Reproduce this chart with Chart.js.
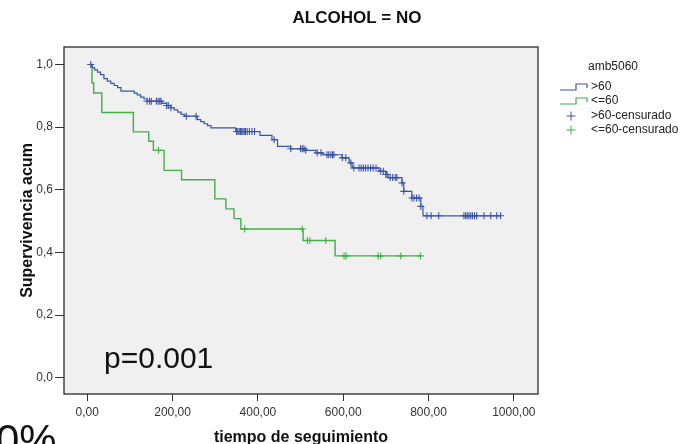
<!DOCTYPE html>
<html>
<head>
<meta charset="utf-8">
<script src="https://cdn.jsdelivr.net/npm/chart.js@4.4.1/dist/chart.umd.min.js"></script>
<style>
  html, body { margin: 0; padding: 0; background: #fff; }
  #wrap { width: 689px; height: 444px; position: relative; }
</style>
</head>
<body>
<div id="wrap"><canvas id="km"></canvas></div>
<script>
// Kaplan-Meier: tiempo de seguimiento vs supervivencia acumulada, grupo amb5060
const blueTimes = [8, 12, 17, 24, 31, 39, 47, 55, 63, 71,
  79, 110, 117, 125, 133, 140, 175, 186, 196, 204,
  212, 220, 228, 258, 266, 274, 282, 290, 348, 405,
  433, 446, 477, 512, 536, 552, 597, 614, 621, 684,
  700, 705, 738, 742, 761, 782, 787, 969];
const blueSurv = [1.0, 0.990, 0.983, 0.976, 0.968, 0.955, 0.947, 0.940, 0.933, 0.926,
  0.915, 0.909, 0.903, 0.896, 0.890, 0.883, 0.876, 0.869, 0.862, 0.855,
  0.848, 0.841, 0.835, 0.824, 0.818, 0.811, 0.805, 0.798, 0.786, 0.774,
  0.760, 0.739, 0.731, 0.726, 0.718, 0.712, 0.702, 0.686, 0.670, 0.659,
  0.649, 0.639, 0.622, 0.595, 0.574, 0.547, 0.517, 0.517];
const blueCensored = [8, 140, 146, 150, 162, 166, 170, 173, 186, 190, 196, 232, 255,
  350, 353, 356, 359, 362, 365, 368, 371, 375, 380, 386, 392,
  438, 477, 500, 504, 508, 512, 539, 548, 562, 566, 571, 575, 578,
  598, 606, 618, 625, 637, 642, 647, 652, 658, 664, 670, 677,
  688, 694, 700, 703, 710, 716, 722, 726, 738, 742, 761, 766, 772, 778, 782,
  796, 806, 824, 883, 887, 891, 895, 899, 903, 908, 913, 930, 946, 960, 969];

const greenTimes = [8, 11, 15, 34, 108, 144, 155, 180, 221, 299, 325, 344, 360, 506, 581, 781];
const greenSurv = [1.0, 0.941, 0.909, 0.847, 0.785, 0.755, 0.726, 0.662, 0.632, 0.571,
  0.539, 0.508, 0.475, 0.438, 0.389, 0.389];
const greenCensored = [167, 369, 504, 516, 522, 559, 602, 607, 682, 688, 735, 781];

const xTicks = [0, 200, 400, 600, 800, 1000];
const yTicks = [0, 0.2, 0.4, 0.6, 0.8, 1.0];

const BLUE = '#3b55a5';
const GREEN = '#45ad4a';
const FONT = 'Arial, "Liberation Sans", sans-serif';

// valor de la curva escalonada en el tiempo t
function survAt(times, surv, t) {
  let s = surv[0];
  for (let i = 0; i < times.length; i++) {
    if (times[i] <= t) s = surv[i];
  }
  return s;
}

function curve(times, surv) {
  return times.map((t, i) => ({ x: t, y: surv[i] }));
}

function marks(cens, times, surv) {
  return cens.map(t => ({ x: t, y: survAt(times, surv, t) }));
}

function drawStep(ctx, x, y, color) {
  ctx.strokeStyle = color;
  ctx.lineWidth = 1.2;
  ctx.beginPath();
  ctx.moveTo(x, y + 3);
  ctx.lineTo(x + 16, y + 3);
  ctx.lineTo(x + 16, y - 3);
  ctx.lineTo(x + 27, y - 3);
  ctx.lineTo(x + 27, y + 1);
  ctx.stroke();
}

function drawCross(ctx, x, y, color) {
  ctx.strokeStyle = color;
  ctx.lineWidth = 1;
  ctx.beginPath();
  ctx.moveTo(x - 4.5, y); ctx.lineTo(x + 4.5, y);
  ctx.moveTo(x, y - 4.5); ctx.lineTo(x, y + 4.5);
  ctx.stroke();
}

const framePlugin = {
  id: 'frame',
  beforeDraw(chart) {
    const { ctx, chartArea: a } = chart;
    ctx.save();
    ctx.fillStyle = '#ffffff';
    ctx.fillRect(0, 0, chart.width, chart.height);
    ctx.fillStyle = '#f0f0f0';
    ctx.fillRect(a.left, a.top, a.right - a.left, a.bottom - a.top);
    ctx.restore();
  },
  afterDraw(chart) {
    const { ctx, chartArea: a } = chart;
    ctx.save();
    ctx.strokeStyle = '#2a2a2a';
    ctx.lineWidth = 1.3;
    ctx.strokeRect(a.left, a.top, a.right - a.left, a.bottom - a.top);

    // título
    ctx.fillStyle = '#111';
    ctx.font = 'bold 17px ' + FONT;
    ctx.textAlign = 'center';
    ctx.textBaseline = 'middle';
    ctx.fillText('ALCOHOL = NO', 357, 18);

    // leyenda
    ctx.font = '12px ' + FONT;
    ctx.fillStyle = '#222';
    ctx.fillText('amb5060', 613, 67);
    ctx.textAlign = 'left';
    const rows = [87, 101, 116, 130];
    drawStep(ctx, 560, rows[0], BLUE);
    drawStep(ctx, 560, rows[1], GREEN);
    drawCross(ctx, 571, rows[2], BLUE);
    drawCross(ctx, 571, rows[3], GREEN);
    ctx.fillStyle = '#222';
    ctx.fillText('>60', 591, rows[0]);
    ctx.fillText('<=60', 591, rows[1]);
    ctx.fillText('>60-censurado', 591, rows[2]);
    ctx.fillText('<=60-censurado', 591, rows[3]);

    // log-rank
    ctx.fillStyle = '#111';
    ctx.textBaseline = 'alphabetic';
    ctx.font = '30px ' + FONT;
    ctx.fillText('p=0.001', 104, 368);

    ctx.font = '42px ' + FONT;
    ctx.fillText('0%', -4, 454);
    ctx.restore();
  }
};

new Chart(document.getElementById('km'), {
  type: 'line',
  data: {
    datasets: [
      {
        label: '>60',
        data: curve(blueTimes, blueSurv),
        stepped: true,
        borderColor: BLUE,
        borderWidth: 1.2,
        pointRadius: 0,
        fill: false
      },
      {
        label: '<=60',
        data: curve(greenTimes, greenSurv),
        stepped: true,
        borderColor: GREEN,
        borderWidth: 1.4,
        pointRadius: 0,
        fill: false
      },
      {
        label: '>60-censurado',
        data: marks(blueCensored, blueTimes, blueSurv),
        showLine: false,
        pointStyle: 'cross',
        pointRadius: 3.5,
        pointBorderWidth: 1.1,
        pointBorderColor: BLUE,
        borderColor: BLUE
      },
      {
        label: '<=60-censurado',
        data: marks(greenCensored, greenTimes, greenSurv),
        showLine: false,
        pointStyle: 'cross',
        pointRadius: 3.5,
        pointBorderWidth: 1.1,
        pointBorderColor: GREEN,
        borderColor: GREEN
      }
    ]
  },
  options: {
    responsive: true,
    maintainAspectRatio: false,
    animation: false,
    layout: { padding: { top: 47, right: 151, left: 0, bottom: 0 } },
    plugins: {
      legend: { display: false },
      tooltip: { enabled: false }
    },
    scales: {
      x: {
        type: 'linear',
        min: -54.6,
        max: 1056.7,
        afterBuildTicks: s => { s.ticks = xTicks.map(v => ({ value: v })); },
        afterFit: s => { s.height = 50; },
        border: { display: false },
        grid: { drawOnChartArea: false, drawTicks: true, tickLength: 7, color: '#333' },
        ticks: {
          color: '#333',
          padding: 4,
          maxRotation: 0,
          font: { family: FONT, size: 12 },
          callback: v => v.toFixed(2).replace('.', ',')
        },
        title: {
          display: true,
          text: 'tiempo de seguimiento',
          color: '#111',
          padding: { top: 0, bottom: -3 },
          font: { family: FONT, size: 16, weight: 'bold' }
        }
      },
      y: {
        min: -0.052,
        max: 1.056,
        afterBuildTicks: s => { s.ticks = yTicks.map(v => ({ value: v })); },
        afterFit: s => { s.width = 64; },
        border: { display: false },
        grid: { drawOnChartArea: false, drawTicks: true, tickLength: 9, color: '#333' },
        ticks: {
          color: '#333',
          padding: 2,
          font: { family: FONT, size: 12 },
          callback: v => v.toFixed(1).replace('.', ',')
        },
        title: {
          display: true,
          text: 'Supervivencia acum',
          color: '#111',
          padding: { top: 18, bottom: 0 },
          font: { family: FONT, size: 16, weight: 'bold' }
        }
      }
    }
  },
  plugins: [framePlugin]
});
</script>
</body>
</html>
